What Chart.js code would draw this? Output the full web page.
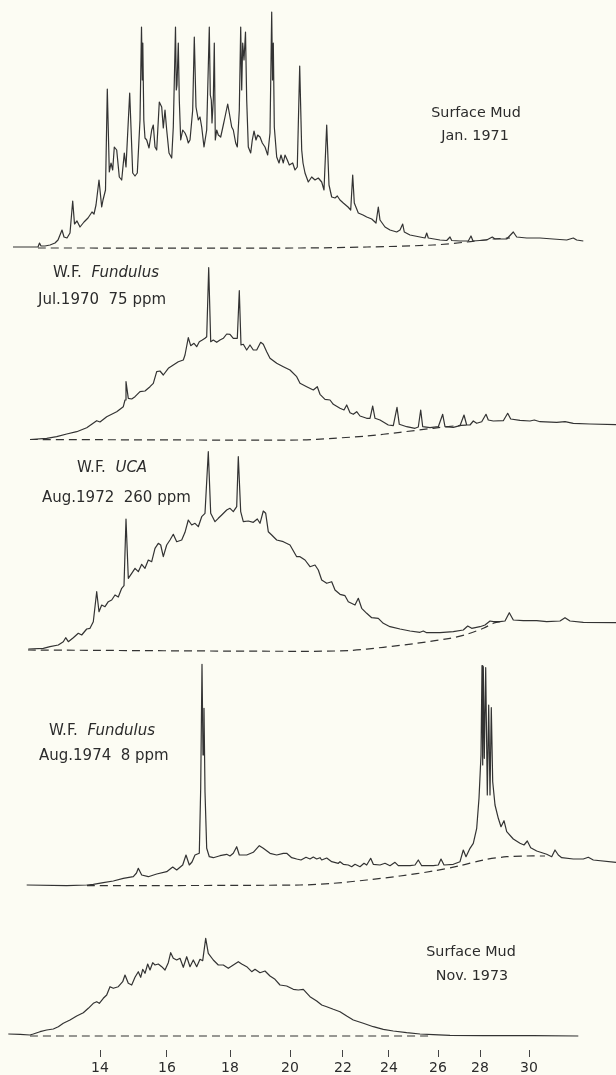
<!DOCTYPE html>
<html>
<head>
<meta charset="utf-8">
<script src="https://cdn.jsdelivr.net/npm/chart.js@4.4.1/dist/chart.umd.min.js"></script>
<style>
    html, body { margin: 0; padding: 0; background: #fcfcf3; }
    #page { position: relative; width: 616px; height: 1075px; overflow: hidden; background: #fcfcf3; }
    .panel { position: absolute; left: 0; width: 616px; }
    .lbl { position: absolute; font-family: "DejaVu Sans", sans-serif; font-size: 15px; color: #2c2c2c; white-space: pre; transform: translateY(-50%); line-height: 1; }
    .lbl.c { transform: translate(-50%, -50%); font-size: 14.3px; }
    .lbl i { font-style: italic; }
</style>
</head>
<body>
<div id="page"></div>
<script>
// retention axis (min), n-alkane markers on the bottom axis
const alkaneRt = [10.0, 16.7, 23.0, 29.0, 34.3, 38.9, 43.8, 48.0, 52.9];
const alkaneLabels = ['14', '16', '18', '20', '22', '24', '26', '28', '30'];

// Surface Mud, Jan. 1971
const mudJan71Rt = [1.3, 3.8, 3.95, 4.1, 4.5, 5.0, 5.5, 5.8, 6.2, 6.4, 6.7, 7.0, 7.27, 7.45, 7.7, 8.0, 8.4, 8.8, 9.2, 9.4, 9.6, 9.9,
    10.17, 10.3, 10.55, 10.73, 10.93, 11.1, 11.27, 11.43, 11.67, 11.93, 12.17, 12.43, 12.6, 12.97, 13.27, 13.5, 13.73, 14.0, 14.15, 14.23, 14.28, 14.38,
    14.5, 14.67, 14.9, 15.17, 15.33, 15.5, 15.67, 15.93, 16.17, 16.33, 16.5, 16.67, 16.9, 17.17, 17.33, 17.55, 17.63, 17.7, 17.83, 17.93, 18.07,
    18.27, 18.5, 18.67, 18.83, 19.0, 19.27, 19.43, 19.6, 19.83, 20.0, 20.17, 20.4, 20.67, 20.93, 21.03, 21.13, 21.2, 21.33, 21.43, 21.53, 21.67,
    21.83, 22.07, 22.33, 22.5, 22.77, 22.93, 23.17, 23.33, 23.57, 23.73, 23.93, 24.07, 24.17, 24.27, 24.4, 24.55, 24.67, 24.83, 25.07, 25.23,
    25.4, 25.6, 25.77, 26.0, 26.23, 26.5, 26.77, 27.0, 27.17, 27.25, 27.33, 27.43, 27.67, 27.9, 28.1, 28.33, 28.5, 28.73, 28.93, 29.27, 29.5,
    29.73, 29.97, 30.17, 30.3, 30.5, 30.83, 31.17, 31.5, 31.83, 32.17, 32.4, 32.67, 32.9, 33.17, 33.5, 33.73, 34.0, 34.33, 34.8, 35.07, 35.27,
    35.43, 35.83, 36.3, 36.67, 37.17, 37.6, 37.83, 38.0, 38.5, 39.0, 39.67, 40.0, 40.27, 40.43, 41.0, 42.0, 42.5, 42.67, 42.83, 44.0, 44.67,
    45.0, 45.17, 46.0, 46.83, 47.1, 47.3, 48.67, 49.23, 49.5, 50.67, 51.33, 51.67, 52.67, 54.0, 55.3, 56.67, 57.33, 57.67, 58.33];
const mudJan71Resp = [0, 0, 4, 1, 1, 2, 4, 7, 17, 10, 9, 14, 46, 23, 26, 20, 25, 29, 35, 33, 42, 67,
    40, 47, 57, 158, 75, 84, 77, 100, 97, 70, 67, 94, 80, 154, 74, 71, 74, 127, 220, 167, 204, 127,
    109, 107, 99, 117, 122, 100, 97, 145, 140, 119, 137, 117, 94, 89, 120, 220, 157, 162, 204, 147, 107,
    117, 114, 110, 104, 107, 137, 210, 140, 127, 130, 120, 100, 117, 220, 152, 147, 124, 147, 204, 107, 117,
    112, 110, 122, 130, 143, 134, 120, 117, 104, 100, 137, 220, 157, 204, 187, 215, 147, 100, 94, 107,
    116, 107, 112, 110, 104, 100, 92, 114, 235, 167, 204, 120, 90, 84, 92, 84, 92, 87, 82, 84, 77,
    80, 181, 97, 84, 74, 65, 70, 67, 69, 65, 57, 122, 62, 50, 49, 51, 47, 44, 40, 37, 72,
    44, 34, 32, 30, 28, 24, 40, 27, 20, 17, 15, 17, 23, 15, 12, 10, 9, 14, 9, 7, 6.5,
    10, 6.5, 6, 6, 11, 6, 7, 10, 8, 8, 15, 10, 9, 9, 8, 7, 9, 7, 6];
const mudJan71BaseRt = [3.8, 30.0, 36.7, 43.3, 46.7, 49.3, 51.0];
const mudJan71BaseResp = [-1, -1, 0, 2, 5, 8, 9];

// W.F. Fundulus, Jul. 1970, 75 ppm
const fund70Rt = [3.0, 4.67, 5.67, 6.67, 7.67, 8.67, 9.67, 10.0, 10.67, 11.67, 12.33, 12.5, 12.6, 12.83, 13.17, 13.5, 14.0, 14.5, 15.0,
    15.33, 15.67, 16.0, 16.33, 16.83, 17.33, 17.83, 18.33, 18.5, 18.83, 19.07, 19.4, 19.67, 19.93, 20.23, 20.5, 20.67, 20.87, 21.07, 21.33,
    21.67, 22.0, 22.33, 22.67, 23.0, 23.33, 23.73, 23.93, 24.1, 24.33, 24.67, 25.0, 25.33, 25.67, 26.07, 26.33, 26.67, 27.0, 27.67, 28.33,
    29.0, 29.67, 30.0, 30.67, 31.33, 31.73, 32.0, 32.5, 33.0, 33.33, 34.0, 34.4, 34.67, 35.0, 35.33, 35.67, 36.0, 36.67, 37.0, 37.27, 37.5,
    38.0, 38.83, 39.33, 39.7, 39.93, 40.67, 41.5, 41.83, 42.07, 42.27, 43.0, 43.83, 44.27, 44.5, 45.33, 46.0, 46.4, 46.67, 47.0, 47.33,
    47.67, 48.17, 48.6, 48.83, 49.33, 50.33, 50.77, 51.07, 52.0, 53.0, 53.43, 54.0, 55.67, 56.5, 57.33, 59.0, 61.6];
const fund70Resp = [0, 1.2, 2.8, 5.5, 7.8, 11.8, 18.8, 17.5, 22.8, 27.8, 32.8, 39.5, 57.8, 41.2, 40.5, 42.8, 47.8, 48.5, 52.8,
    56.2, 67.8, 68.5, 64.5, 71.2, 74.5, 77.8, 79.5, 84.5, 101.8, 93.8, 96.2, 92.8, 97.8, 99.5, 101.2, 102.8, 171.8, 97.8, 99.5,
    97.2, 99.5, 101.2, 105.5, 105.2, 101.2, 101.2, 148.8, 94.5, 95.2, 89.5, 94.5, 89.5, 89.5, 97.2, 95.2, 87.8, 81.2, 76.2, 72.8,
    69.5, 62.8, 56.2, 52.8, 49.5, 52.8, 45.2, 40.2, 39.5, 35.2, 31.2, 29.5, 34.5, 26.8, 25.2, 27.8, 23.5, 21.2, 21.2, 33.5, 21.2,
    19.5, 14.5, 13.8, 32.2, 15.2, 12.8, 11.2, 12.5, 29.5, 12.8, 11.8, 12.8, 25.2, 12.8, 12.2, 13.8, 24.5, 14.5, 14.5, 18.5,
    16.2, 17.8, 25.2, 19.5, 18.5, 18.8, 26.2, 20.5, 19.2, 18.5, 19.5, 17.8, 17.2, 17.8, 16.2, 15.5, 14.8];
const fund70BaseRt = [3.0, 30.0, 33.3, 36.67, 40.0, 43.3, 45.67, 47.0];
const fund70BaseResp = [0, -0.5, 1.2, 3.5, 7.2, 11.2, 13.8, 14.5];

// W.F. Uca, Aug. 1972, 260 ppm
const uca72Rt = [2.83, 4.33, 5.0, 5.83, 6.33, 6.57, 6.83, 7.33, 7.83, 8.17, 8.67, 9.0, 9.33, 9.67, 9.9, 10.17, 10.5, 10.83, 11.17, 11.5,
    11.83, 12.17, 12.4, 12.6, 12.83, 13.17, 13.5, 13.83, 14.17, 14.5, 14.83, 15.17, 15.5, 15.83, 16.07, 16.33, 16.67, 17.0, 17.33, 17.67,
    18.17, 18.5, 18.83, 19.17, 19.5, 19.83, 20.17, 20.5, 20.83, 21.07, 21.5, 21.83, 22.17, 22.67, 23.0, 23.33, 23.67, 23.83, 24.07, 24.33,
    24.83, 25.33, 25.73, 26.0, 26.33, 26.57, 26.83, 27.17, 27.67, 28.33, 29.0, 29.67, 30.0, 30.5, 31.0, 31.5, 31.83, 32.17, 32.67, 33.17,
    33.5, 34.0, 34.5, 34.83, 35.5, 35.83, 36.17, 36.67, 37.17, 37.83, 38.33, 39.0, 40.0, 41.0, 42.0, 42.33, 42.67, 44.0, 45.33, 46.33,
    46.77, 47.17, 48.0, 48.5, 49.0, 49.33, 50.0, 50.5, 50.93, 51.33, 52.33, 53.67, 54.67, 56.0, 56.5, 57.0, 58.33, 61.6];
const uca72Resp = [0.5, 1.2, 2.8, 4.5, 7.8, 11.8, 7.8, 11.8, 16.2, 14.5, 20.5, 21.2, 27.8, 57.8, 37.8, 44.5, 42.8, 47.8, 49.5, 54.5,
    52.5, 61.2, 63.8, 130.5, 71.2, 76.2, 81.2, 77.8, 85.2, 81.2, 89.5, 87.8, 101.2, 106.2, 104.5, 92.8, 104.5, 109.5, 115.2, 107.8,
    109.5, 117.2, 129.5, 124.5, 126.2, 122.8, 132.8, 136.2, 197.8, 136.2, 127.8, 131.2, 134.5, 139.5, 141.2, 137.8, 142.8, 192.8, 137.8, 127.8,
    128.5, 127.2, 130.5, 126.2, 138.5, 136.2, 117.8, 114.5, 109.5, 107.8, 104.5, 92.8, 92.8, 89.5, 82.8, 84.5, 79.5, 69.5, 66.2, 67.8,
    59.5, 55.2, 53.8, 47.8, 44.5, 51.2, 41.2, 36.2, 31.8, 31.2, 26.2, 22.8, 20.5, 18.5, 17.2, 18.5, 16.8, 16.8, 17.8, 19.5,
    23.5, 21.2, 22.8, 24.5, 28.5, 27.8, 27.8, 28.5, 36.8, 29.5, 28.8, 28.8, 27.8, 28.5, 31.8, 28.5, 27.2, 26.8];
const uca72BaseRt = [2.8, 30.0, 35.0, 38.33, 41.67, 45.0, 46.67, 48.33, 49.33, 50.0];
const uca72BaseResp = [-0.5, -1.8, -1.0, 2.2, 6.2, 11.2, 15.2, 21.2, 26.2, 27.8];

// W.F. Fundulus, Aug. 1974, 8 ppm
const fund74Rt = [2.67, 6.67, 8.67, 9.33, 10.33, 11.33, 12.33, 13.33, 13.65, 13.83, 14.17, 14.83, 15.67, 16.67, 17.27, 17.67, 18.27,
    18.6, 18.93, 19.2, 19.5, 19.93, 20.07, 20.2, 20.3, 20.4, 20.5, 20.67, 20.93, 21.33, 22.0, 22.67, 23.0, 23.33, 23.67, 23.93, 24.67,
    25.33, 25.93, 26.33, 27.0, 27.67, 28.33, 28.67, 29.17, 29.67, 30.1, 30.6, 31.0, 31.33, 31.67, 32.0, 32.17, 32.67, 33.17, 33.83, 34.0,
    34.33, 34.83, 35.17, 35.5, 36.0, 36.4, 36.67, 37.07, 37.33, 38.0, 38.5, 39.0, 39.5, 39.83, 41.0, 41.5, 41.83, 42.17, 43.33, 43.83,
    44.1, 44.4, 45.33, 46.0, 46.33, 46.6, 47.0, 47.33, 47.67, 47.9, 48.1, 48.2, 48.27, 48.33, 48.43, 48.57, 48.73, 48.87, 49.0, 49.13,
    49.27, 49.5, 49.83, 50.1, 50.4, 50.67, 51.33, 52.0, 52.4, 52.73, 53.07, 53.67, 54.67, 55.17, 55.5, 55.83, 56.17, 57.33, 58.33, 58.83,
    59.33, 61.6];
const fund74Resp = [0.5, -0.2, 0.5, 1.2, 2.8, 4.5, 7.2, 8.8, 12.5, 17.2, 10.5, 8.8, 11.5, 13.8, 18.5, 15.5, 20.5,
    30.5, 20.5, 23.5, 30.5, 32.2, 97.5, 221.2, 130.5, 177.2, 93.8, 37.2, 28.8, 27.8, 29.8, 31.2, 29.5, 32.2, 38.8, 30.5, 30.5,
    33.2, 39.8, 37.2, 32.2, 30.5, 32.2, 32.2, 27.8, 26.5, 25.5, 28.2, 26.5, 28.5, 26.5, 27.8, 25.5, 27.5, 23.8, 22.2, 23.8,
    21.2, 20.5, 18.8, 21.2, 18.8, 22.2, 20.5, 27.2, 21.2, 20.5, 22.2, 19.8, 23.2, 19.8, 19.8, 20.5, 25.5, 19.8, 19.8, 20.5,
    26.5, 20.5, 21.2, 23.8, 35.5, 28.8, 37.2, 42.2, 57.2, 87.2, 130.5, 219.8, 120.5, 218.8, 127.2, 217.8, 90.5, 180.5, 90.5, 177.8,
    103.8, 80.5, 67.2, 58.8, 64.8, 53.8, 46.5, 42.2, 40.5, 44.5, 37.8, 34.5, 31.2, 28.8, 35.5, 30.5, 27.8, 26.5, 26.5, 28.2,
    25.5, 23.2];
const fund74BaseRt = [8.7, 30.0, 33.33, 36.67, 40.0, 43.33, 46.0, 48.33, 50.67, 52.67, 54.5];
const fund74BaseResp = [-0.2, 0.5, 2.2, 5.5, 9.5, 14.5, 19.8, 25.5, 28.8, 29.5, 29.5];

// Surface Mud, Nov. 1973
const mudNov73Rt = [0.83, 2.0, 3.0, 3.33, 4.0, 4.67, 5.33, 5.83, 6.33, 7.0, 7.67, 8.33, 8.83, 9.33, 9.67, 9.93, 10.33, 10.67, 11.0, 11.33,
    11.83, 12.27, 12.5, 12.83, 13.17, 13.5, 13.83, 14.07, 14.27, 14.5, 14.77, 15.0, 15.27, 15.5, 15.83, 16.17, 16.5, 16.83, 17.07, 17.33,
    17.67, 18.0, 18.33, 18.67, 19.0, 19.33, 19.67, 20.0, 20.27, 20.57, 20.83, 21.33, 21.83, 22.33, 22.83, 23.33, 23.83, 24.17, 24.67, 25.17,
    25.5, 26.0, 26.5, 27.0, 27.5, 28.0, 28.67, 29.33, 29.83, 30.33, 31.0, 31.67, 32.17, 32.67, 33.33, 34.0, 34.67, 35.33, 36.33, 37.33,
    38.33, 39.33, 40.67, 42.0, 43.33, 45.0, 48.33, 53.33, 57.83];
const mudNov73Resp = [1.5, 1.2, 0.5, 1.5, 3.8, 5.5, 6.5, 8.8, 12.2, 15.5, 19.5, 22.8, 27.2, 32.2, 33.8, 32.2, 37.2, 40.5, 48.8, 47.2,
    48.8, 53.8, 60.5, 52.2, 50.5, 58.2, 63.8, 58.2, 66.2, 62.2, 71.5, 65.5, 72.8, 70.5, 71.5, 68.8, 65.5, 72.8, 82.8, 77.2,
    75.5, 77.2, 68.2, 78.8, 68.8, 75.5, 68.8, 76.2, 74.8, 97.2, 82.2, 75.5, 70.5, 70.5, 67.2, 70.5, 73.8, 71.5, 68.8, 63.8,
    66.2, 62.8, 64.5, 59.5, 56.2, 50.5, 49.5, 46.2, 45.5, 46.2, 38.8, 34.5, 30.5, 28.8, 26.2, 23.8, 19.5, 15.5, 12.2, 8.8,
    6.2, 4.5, 2.8, 1.5, 0.8, 0.2, -0.2, -0.2, -0.5];
const mudNov73BaseRt = [3.0, 43.3];
const mudNov73BaseResp = [-0.5, -0.5];

const INK = '#333333';

// page bands for the five traces: top, height, zero-level pixel
const panels = [
    { id: 'p1', top: 0, height: 255, zero: 247, rt: mudJan71Rt, resp: mudJan71Resp, bRt: mudJan71BaseRt, bResp: mudJan71BaseResp },
    { id: 'p2', top: 255, height: 195, zero: 439.5, rt: fund70Rt, resp: fund70Resp, bRt: fund70BaseRt, bResp: fund70BaseResp },
    { id: 'p3', top: 450, height: 210, zero: 649.5, rt: uca72Rt, resp: uca72Resp, bRt: uca72BaseRt, bResp: uca72BaseResp },
    { id: 'p4', top: 660, height: 235, zero: 885.5, rt: fund74Rt, resp: fund74Resp, bRt: fund74BaseRt, bResp: fund74BaseResp },
    { id: 'p5', top: 895, height: 180, zero: 1035.5, rt: mudNov73Rt, resp: mudNov73Resp, bRt: mudNov73BaseRt, bResp: mudNov73BaseResp, axis: 25 }
];

const labels = [
    { x: 476, y: 112, c: true, html: 'Surface Mud' },
    { x: 475, y: 135, c: true, html: 'Jan. 1971' },
    { x: 53, y: 272, html: 'W.F.  <i>Fundulus</i>' },
    { x: 38, y: 299, html: 'Jul.1970  75 ppm' },
    { x: 77, y: 467, html: 'W.F.  <i>UCA</i>' },
    { x: 42, y: 497, html: 'Aug.1972  260 ppm' },
    { x: 49, y: 730, html: 'W.F.  <i>Fundulus</i>' },
    { x: 39, y: 755, html: 'Aug.1974  8 ppm' },
    { x: 471, y: 951, c: true, html: 'Surface Mud' },
    { x: 472, y: 975, c: true, html: 'Nov. 1973' }
];

function toPoints(xs, ys) {
    return xs.map((x, i) => ({ x: x, y: ys[i] }));
}

function buildPanel(p) {
    const page = document.getElementById('page');
    const wrap = document.createElement('div');
    wrap.className = 'panel';
    wrap.style.top = p.top + 'px';
    wrap.style.height = p.height + 'px';
    const canvas = document.createElement('canvas');
    canvas.width = 616;
    canvas.height = p.height;
    canvas.id = p.id;
    wrap.appendChild(canvas);
    page.appendChild(wrap);

    const axisH = p.axis || 0;
    const yMax = p.zero - p.top;
    const yMin = p.zero - (p.top + p.height - axisH);

    new Chart(canvas, {
        type: 'line',
        data: {
            datasets: [
                {
                    data: toPoints(p.bRt, p.bResp),
                    borderColor: INK,
                    borderWidth: 1.2,
                    borderDash: [8, 5],
                    pointRadius: 0,
                    tension: 0.3
                },
                {
                    data: toPoints(p.rt, p.resp),
                    borderColor: INK,
                    borderWidth: 1.2,
                    borderJoinStyle: 'round',
                    pointRadius: 0,
                    tension: 0
                }
            ]
        },
        options: {
            responsive: false,
            animation: false,
            events: [],
            layout: { padding: 0 },
            plugins: { legend: { display: false }, tooltip: { enabled: false } },
            scales: {
                x: {
                    type: 'linear',
                    min: 0,
                    max: 61.6,
                    display: !!p.axis,
                    border: { display: false },
                    grid: { drawOnChartArea: false, drawTicks: true, tickLength: 7, color: '#444', lineWidth: 1 },
                    afterBuildTicks: (scale) => { scale.ticks = alkaneRt.map(v => ({ value: v })); },
                    afterFit: (scale) => { scale.height = axisH; },
                    ticks: {
                        autoSkip: false,
                        maxRotation: 0,
                        padding: 3,
                        color: '#2c2c2c',
                        font: { family: 'DejaVu Sans', size: 14 },
                        callback: (v, i) => alkaneLabels[i]
                    }
                },
                y: { type: 'linear', min: yMin, max: yMax, display: false }
            }
        }
    });
}

function buildLabels() {
    const page = document.getElementById('page');
    labels.forEach(l => {
        const d = document.createElement('div');
        d.className = 'lbl' + (l.c ? ' c' : '');
        d.style.left = l.x + 'px';
        d.style.top = l.y + 'px';
        d.innerHTML = l.html;
        page.appendChild(d);
    });
}

panels.forEach(buildPanel);
buildLabels();
</script>
</body>
</html>
